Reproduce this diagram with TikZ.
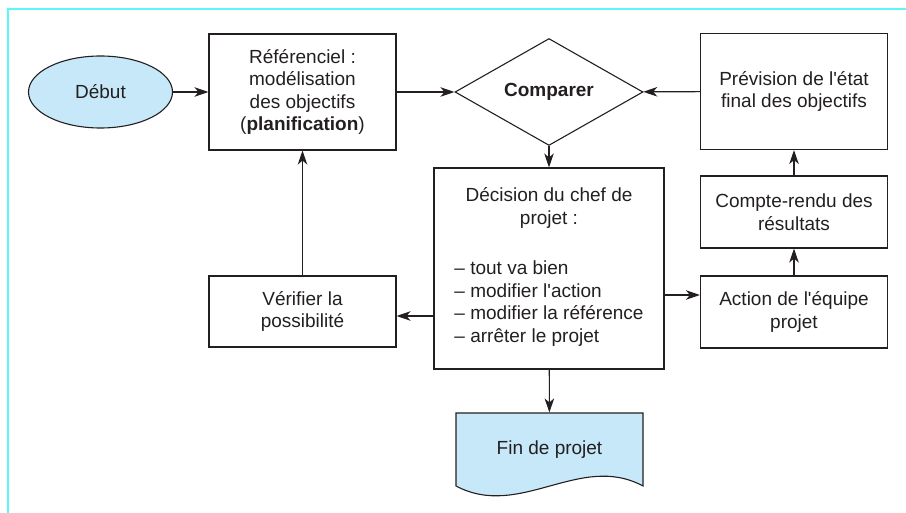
\documentclass[tikz,border=0pt]{standalone}
\usepackage{fontspec}
\setmainfont{Liberation Sans}
\usetikzlibrary{shapes.geometric,arrows.meta}

\definecolor{framecyan}{RGB}{90,248,248}
\definecolor{paleblue}{RGB}{199,232,248}
\definecolor{ink}{RGB}{35,31,32}
\newcommand{\boxfont}{\fontsize{19}{22.5}\selectfont}
\newcommand{\apos}{\textquotesingle}

\begin{document}
\begin{tikzpicture}[x=1pt, y=-1pt, line width=1.1pt, draw=ink, text=ink,
    arr/.style={-{Stealth[length=14pt,width=9.5pt,inset=4pt]}},
    box/.style={draw, rectangle, minimum width=187pt, align=center, inner sep=2pt, font=\boxfont}]
  \useasboundingbox (0,0) rectangle (906,513);
  % frame
  \draw[framecyan, line width=2pt] (906,9) -- (8,9) -- (8,513);

  % top row
  \node[draw, ellipse, fill=paleblue, minimum width=144pt, minimum height=72pt, inner sep=0pt, font=\boxfont] (debut) at (100.5,92) {Début};
  \node[box, minimum height=116pt] (ref) at (302.5,92) {Référenciel :\\modélisation\\des objectifs\\(\textbf{planification})};
  \node[draw, diamond, minimum width=188pt, minimum height=72pt, inner sep=0pt, font=\boxfont\bfseries] (comp) at (549,92) {Comparer};
  \node[box, minimum height=116pt] (prev) at (794,91.5) {Prévision de l\apos état\\final des objectifs};

  % middle
  \node[box, minimum width=230pt, minimum height=201pt] (decision) at (549,268.5)
    {Décision du chef de\\projet :\\[30pt]\begin{tabular}{@{}l@{}}– tout va bien\\– modifier l\apos action\\– modifier la référence\\– arrêter le projet\end{tabular}};
  \node[box, minimum height=71pt] (verif) at (302.5,311.5) {Vérifier la\\possibilité};
  \node[box, minimum height=72pt] (compte) at (794,212) {Compte-rendu des\\résultats};
  \node[box, minimum height=72pt] (action) at (794,312) {Action de l\apos équipe\\projet};

  % end of project, drawn as a document
  \draw[fill=paleblue] (456,486) -- (456,413) -- (643,413) -- (643,486)
    .. controls +(-63,-34) and +(64,34) .. (456,486) -- cycle;
  \node[font=\boxfont, minimum width=187pt, minimum height=73pt, inner sep=0pt] (fin) at (549.5,449.5) {Fin de projet};

  \coordinate (vin) at ([yshift=-4.5pt]verif.east);
  \coordinate (ain) at ([yshift=17pt]action.west);

  \draw[arr] (debut) -- (ref);
  \draw[arr] (ref) -- (comp);
  \draw[arr] (prev) -- (comp);
  \draw[arr] (comp) -- (decision);
  \draw[arr] (decision.west |- vin) -- (vin);
  \draw[arr] (verif) -- (ref);
  \draw[arr] (decision.east |- ain) -- (ain);
  \draw[arr] (action) -- (compte);
  \draw[arr] (compte) -- (prev);
  \draw[arr] (decision) -- (fin);
\end{tikzpicture}
\end{document}
